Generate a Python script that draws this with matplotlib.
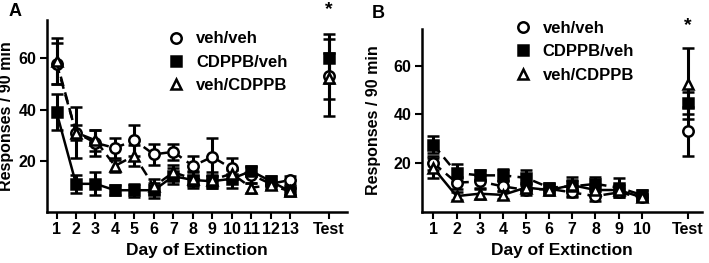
import matplotlib.pyplot as plt
from matplotlib.lines import Line2D
import numpy as np

plt.rcParams['font.family'] = ['Liberation Sans', 'DejaVu Sans']
plt.rcParams['font.weight'] = 'bold'

## Panel A data (days 1-13, then Test)
days_a = list(range(1, 14))
veh_veh_a = [58, 31, 27, 25, 28, 22.5, 23.5, 18, 21.5, 17, 14.5, 11, 12.5]
veh_veh_a_err = [8, 10, 5, 4, 6, 4, 3, 4, 7.5, 4, 3, 2, 1.5]
cdppb_veh_a = [39, 11, 11, 8.5, 8.5, 8.5, 14, 12.5, 12, 13, 16, 12, 8]
cdppb_veh_a_err = [7, 3.5, 4.5, 2, 2.5, 3, 3, 3, 2.5, 3.5, 2, 2, 1.5]
veh_cdppb_a = [59, 31, 28, 18, 22, 10, 15.5, 13, 12.5, 15, 9.5, 10.5, 8]
veh_cdppb_a_err = [9, 3, 4, 2.5, 4, 3, 3, 3, 3, 2, 2, 1.5, 1.5]
test_a = [53, 60, 52.5]
test_a_err = [9, 9.5, 15]

## Panel B data (days 1-10, then Test)
days_b = list(range(1, 11))
veh_veh_b = [20, 12, 12.5, 10.5, 9, 9.5, 8, 6.5, 8, 6]
veh_veh_b_err = [3, 2.5, 2.5, 2, 2, 2, 2, 2, 2, 1.5]
cdppb_veh_b = [27.5, 16, 15, 15, 14, 10, 10.5, 11.5, 10, 7]
cdppb_veh_b_err = [3.5, 3.5, 2, 2.5, 3, 2, 4, 3, 4, 2]
veh_cdppb_b = [18, 6.5, 7.5, 7, 10, 9, 11, 9, 9, 6]
veh_cdppb_b_err = [4, 1.5, 2, 1.5, 2, 2, 2, 2, 2, 1.5]
test_b = [33, 44.5, 52.5]
test_b_err = [10, 4.5, 14.5]

labels = ["veh/veh", "CDPPB/veh", "veh/CDPPB"]
markers = ["o", "s", "^"]
faces = ["white", "black", "white"]
MS = 7.5


def draw_panel(ax, days, series, errs, styles, test_vals, test_errs, test_x, xlim, ylab_x):
    for i, (vals, err) in enumerate(zip(series, errs)):
        ax.errorbar(days, vals, yerr=err, color="black", linestyle=styles[i],
                    linewidth=1.8, elinewidth=2.2, capsize=4.5, capthick=2.2,
                    marker=markers[i], markersize=MS, markerfacecolor=faces[i],
                    markeredgecolor="black", markeredgewidth=1.8,
                    dashes=(4, 2.5) if styles[i] == "--" else (None, None))
    for i in range(3):
        ax.errorbar([test_x], [test_vals[i]], yerr=test_errs[i], color="black",
                    elinewidth=2.2, capsize=4.5, capthick=2.2, marker=markers[i],
                    markersize=MS, markerfacecolor=faces[i], markeredgecolor="black",
                    markeredgewidth=1.8)
    ax.set_xlim(*xlim)
    ax.set_ylim(0, 75)
    ax.set_yticks([20, 40, 60])
    ax.set_xticks(days + [test_x])
    ax.set_xticklabels([str(d) for d in days] + ["Test"])
    for s in ["top", "right"]:
        ax.spines[s].set_visible(False)
    for s in ["left", "bottom"]:
        ax.spines[s].set_linewidth(1.8)
    ax.tick_params(width=1.5, length=5, labelsize=11.5, pad=2.5)
    for t in ax.get_xticklabels() + ax.get_yticklabels():
        t.set_fontweight("bold")
    ax.set_xlabel("Day of Extinction", fontsize=12.5, fontweight="bold", labelpad=4)
    ax.set_ylabel("Responses / 90 min", fontsize=11.5, fontweight="bold")
    ax.yaxis.set_label_coords(ylab_x, 0.5)
    handles = [Line2D([], [], linestyle="none", marker=markers[i], markersize=MS,
                      markerfacecolor=faces[i], markeredgecolor="black",
                      markeredgewidth=1.8) for i in range(3)]
    return handles


fig = plt.figure(figsize=(7.09, 2.63), dpi=100)
ax1 = fig.add_axes([0.066, 0.194, 0.423, 0.730])
ax2 = fig.add_axes([0.595, 0.194, 0.395, 0.696])

h = draw_panel(ax1, days_a, [veh_veh_a, cdppb_veh_a, veh_cdppb_a],
               [veh_veh_a_err, cdppb_veh_a_err, veh_cdppb_a_err],
               ["--", "-", "--"], test_a, test_a_err, 15, (0.5, 15.9), -0.11)
ax1.legend(h, labels, loc="upper left", bbox_to_anchor=(0.375, 0.975), frameon=False,
           prop={"size": 12, "weight": "bold"}, handletextpad=0.6, labelspacing=0.5,
           borderaxespad=0, handlelength=1.2)
ax1.text(15, 79, "*", ha="center", va="center", fontsize=14, fontweight="bold", clip_on=False)

h = draw_panel(ax2, days_b, [veh_veh_b, cdppb_veh_b, veh_cdppb_b],
               [veh_veh_b_err, cdppb_veh_b_err, veh_cdppb_b_err],
               ["--", "--", "-"], test_b, test_b_err, 12, (0.5, 12.6), -0.145)
ax2.legend(h, labels, loc="upper left", bbox_to_anchor=(0.30, 1.08), frameon=False,
           prop={"size": 12, "weight": "bold"}, handletextpad=0.6, labelspacing=0.5,
           borderaxespad=0, handlelength=1.2)
ax2.text(12, 76.5, "*", ha="center", va="center", fontsize=14, fontweight="bold", clip_on=False)

fig.text(0.012, 0.955, "A", fontsize=13, fontweight="bold", va="center")
fig.text(0.524, 0.95, "B", fontsize=13, fontweight="bold", va="center")

fig.savefig("out.png", dpi=100)
